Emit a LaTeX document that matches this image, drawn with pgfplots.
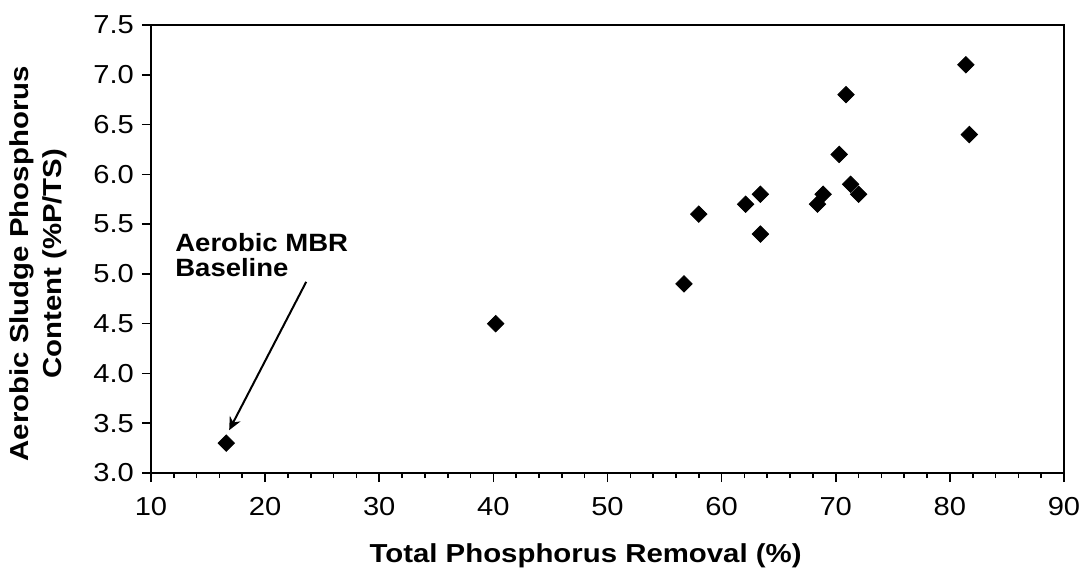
\documentclass[border=0pt]{standalone}
\usepackage{pgfplots}
\pgfplotsset{compat=1.18}
\usepackage{fontspec}
\setmainfont{Liberation Sans}[FakeStretch=1.12]
\newfontfamily\labfont{Liberation Sans}[FakeStretch=1.13]
\newfontfamily\notefont{Liberation Sans}[FakeStretch=1.1]
\usetikzlibrary{arrows.meta}

\begin{document}
\begin{tikzpicture}
\begin{axis}[
    name=ax,
    scale only axis,
    width=456.5pt, height=224pt,
    xmin=10, xmax=90, ymin=3, ymax=7.5,
    xtick distance=10, ytick distance=0.5,
    minor x tick num=4,
    xtick pos=bottom, ytick pos=left,
    tick align=outside,
    major tick length=4.5pt, minor tick length=2.5pt,
    axis line style={line width=1pt},
    every tick/.style={black, line width=0.8pt},
    /pgf/number format/assume math mode=true,
    ticklabel style={font=\fontsize{13}{15}\selectfont},
    xticklabel style={yshift=-4pt},
    yticklabel style={xshift=-0.5pt, /pgf/number format/.cd, fixed, fixed zerofill, precision=1},
    xlabel={Total Phosphorus Removal (\%)},
    ylabel={Aerobic Sludge Phosphorus\\Content (\%P/TS)},
    label style={font=\labfont\bfseries\fontsize{13}{16.5}\selectfont},
    xlabel style={at={(axis description cs:0.476,0)}, anchor=base, yshift=-44.5pt},
    ylabel style={align=center, at={(axis description cs:-0.155,0.467)}, anchor=north, inner sep=0pt},
    clip=false,
]

% sludge P content vs total P removal
\addplot[only marks, mark=square*, mark size=2.9pt,
    mark options={rotate=45, fill=black, draw=black}]
coordinates {
    (16.6,3.3) (40.2,4.5) (56.7,4.9) (58.0,5.6) (62.1,5.7)
    (63.4,5.8) (63.4,5.4) (68.4,5.7) (68.9,5.8) (70.3,6.2)
    (70.9,6.8) (71.3,5.9) (72.0,5.8) (81.4,7.1) (81.7,6.4)
};

\node[anchor=base west, font=\notefont\bfseries\fontsize{12.5}{14}\selectfont, inner sep=0pt]
    at (axis cs:12.1,5.22) {Aerobic MBR};
\node[anchor=base west, font=\notefont\bfseries\fontsize{12.5}{14}\selectfont, inner sep=0pt]
    at (axis cs:12.1,4.97) {Baseline};
\draw[line width=1pt, -{Stealth[length=6.5pt, width=6pt]}]
    (axis cs:23.6,4.92) -- (axis cs:16.85,3.43);

\end{axis}
\pgfresetboundingbox
\path (ax.south west) ++(-75.5pt,-50pt) rectangle ++(543pt,286.5pt);
\end{tikzpicture}
\end{document}
